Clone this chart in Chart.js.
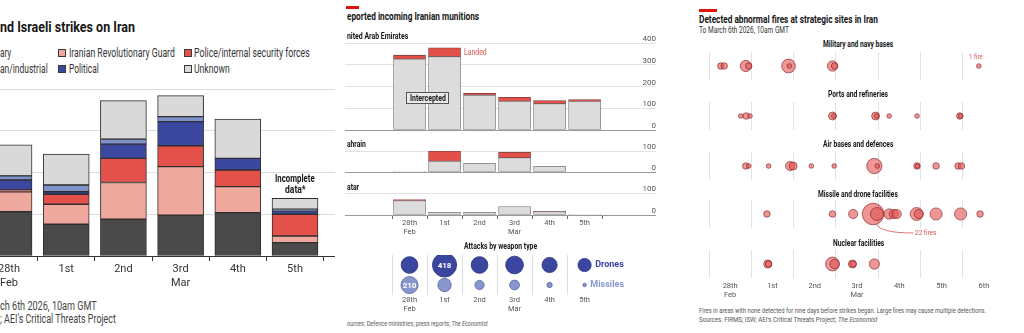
<!DOCTYPE html>
<html>
<head>
<meta charset="utf-8">
<title>Strikes, munitions and fires</title>
<script src="https://cdn.jsdelivr.net/npm/chart.js@4.4.1/dist/chart.umd.min.js"></script>
<style>
  html, body { margin: 0; width: 1024px; height: 333px; overflow: hidden; background: #fff; font-family: Roboto, sans-serif; }
  canvas { position: absolute; }
  .t { position: absolute; z-index: 2; white-space: nowrap; line-height: 1; transform-origin: 0 50%; transform: translateY(-50%); color: #333; }
  .b { font-weight: 700; color: #161616; }
  .sw { position: absolute; width: 8px; height: 8px; box-sizing: border-box; border: 1px solid #3a3a3a; }
  .accent { position: absolute; height: 3px; background: #e3120b; }
  .box { position: absolute; z-index: 2; box-sizing: border-box; border: 1px solid #555; background: #e9e9e9; }
</style>
</head>
<body>
<!-- left: strikes by target -->
<canvas id="strikes" width="375" height="216" style="left:-40px;top:80px"></canvas>
<div class="t b" style="left:0;top:27px;font-size:15px" data-w="135">nd Israeli strikes on Iran</div>
<div class="t" style="left:0;top:53px;font-size:12px" data-w="11">ary</div>
<div class="sw" style="left:58px;top:49px;background:#eea89d"></div>
<div class="t" style="left:69px;top:53px;font-size:12px" data-w="106">Iranian Revolutionary Guard</div>
<div class="sw" style="left:184px;top:49px;background:#e4504a"></div>
<div class="t" style="left:194px;top:53px;font-size:12px" data-w="116">Police/internal security forces</div>
<div class="t" style="left:0;top:69px;font-size:12px" data-w="48">an/industrial</div>
<div class="sw" style="left:58px;top:65px;background:#3c48a0"></div>
<div class="t" style="left:69px;top:69px;font-size:12px" data-w="30">Political</div>
<div class="sw" style="left:184px;top:65px;background:#d9d9d9"></div>
<div class="t" style="left:194px;top:69px;font-size:12px" data-w="36">Unknown</div>
<div class="t b" style="top:178px;font-size:11px" data-cx="295" data-w="40">Incomplete</div>
<div class="t b" style="top:189px;font-size:11px" data-cx="295" data-w="21">data*</div>
<div class="t" style="left:0;top:306px;font-size:12px;color:#444" data-w="97">ch 6th 2026, 10am GMT</div>
<div class="t" style="left:0;top:319px;font-size:12px;color:#444" data-w="116">; AEI's Critical Threats Project</div>

<!-- middle: munitions -->
<canvas id="uae" width="311" height="97" style="left:345px;top:34px"></canvas>
<canvas id="bahrain" width="311" height="31" style="left:345px;top:142px"></canvas>
<canvas id="qatar" width="311" height="55" style="left:345px;top:184px"></canvas>
<canvas id="weapons" width="311" height="70" style="left:345px;top:245px"></canvas>
<div class="accent" style="left:346px;top:6px;width:13px"></div>
<div class="t b" style="left:347px;top:16px;font-size:11px" data-w="132">eported incoming Iranian munitions</div>
<div class="t b" style="left:347px;top:36px;font-size:8.5px" data-w="61">nited Arab Emirates</div>
<div class="t" style="left:464px;top:52px;font-size:9px;color:#e3504a" data-w="23">Landed</div>
<div class="box" style="left:406px;top:92px;width:43px;height:12px"></div>
<div class="t b" style="top:98px;font-size:8.5px" data-cx="427.5" data-w="36">Intercepted</div>
<div class="t b" style="left:347px;top:144px;font-size:8.5px" data-w="19">ahrain</div>
<div class="t b" style="left:347px;top:187px;font-size:8.5px" data-w="12">atar</div>
<div class="t b" style="top:246px;font-size:9px" data-cx="500" data-w="73">Attacks by weapon type</div>
<div class="t" style="left:347px;top:324px;font-size:8px;color:#555" data-w="141">ources: Defence ministries; press reports; <i>The Economist</i></div>

<!-- right: fires -->
<canvas id="fireMil" width="296" height="28" style="left:709px;top:52px"></canvas>
<canvas id="firePort" width="296" height="28" style="left:709px;top:102px"></canvas>
<canvas id="fireAir" width="296" height="28" style="left:709px;top:152px"></canvas>
<canvas id="fireMissile" width="296" height="36" style="left:709px;top:200px"></canvas>
<canvas id="fireNuclear" width="296" height="50" style="left:709px;top:250px"></canvas>
<div class="accent" style="left:699px;top:9px;width:18px"></div>
<div class="t b" style="left:699px;top:19px;font-size:11px" data-w="179">Detected abnormal fires at strategic sites in Iran</div>
<div class="t" style="left:699px;top:30px;font-size:8.5px" data-w="90">To March 6th 2026, 10am GMT</div>
<div class="t b" style="top:44px;font-size:9px" data-cx="858" data-w="70">Military and navy bases</div>
<div class="t" style="top:57px;font-size:8px;color:#d9534f" data-cx="976" data-w="14">1 fire</div>
<div class="t b" style="top:94px;font-size:9px" data-cx="858" data-w="60">Ports and refineries</div>
<div class="t b" style="top:144px;font-size:9px" data-cx="858" data-w="70">Air bases and defences</div>
<div class="t b" style="top:194px;font-size:9px" data-cx="858" data-w="80">Missile and drone facilities</div>
<div class="t" style="left:915px;top:233px;font-size:8px;color:#d9534f" data-w="21">22 fires</div>
<div class="t b" style="top:243px;font-size:9px" data-cx="858" data-w="51">Nuclear facilities</div>
<div class="t" style="left:699px;top:311px;font-size:7.5px;color:#555" data-w="287">Fires in areas with none detected for nine days before strikes began. Large fires may cause multiple detections.</div>
<div class="t" style="left:699px;top:320px;font-size:7.5px;color:#555" data-w="179">Sources: FIRMS; ISW; AEI's Critical Threats Project; <i>The Economist</i></div>

<script>
// strikes per day, by target type
const strikeDays = [['28th', 'Feb'], '1st', '2nd', ['3rd', 'Mar'], '4th', '5th'];
const military = [53, 38, 44, 49, 52, 16];
const revolutionaryGuard = [24, 24, 44, 58, 31, 8];
const police = [2, 12, 29, 25, 20, 26];
const political = [12, 3, 17, 29, 14, 4];
const civilian = [5, 8, 6, 6, 0, 2];
const unknown = [37, 37, 46, 25, 47, 13];

// incoming Iranian munitions
const munitionDays = [['28th', 'Feb'], '1st', '2nd', ['3rd', 'Mar'], '4th', '5th'];
const uaeIntercepted = [326, 337, 160, 132, 121, 131];
const uaeLanded = [18, 41, 9, 18, 14, 9];
const bahrainIntercepted = [3, 51, 41, 68, 27, 0];
const bahrainLanded = [0, 49, 0, 26, 0, 0];
const qatarIntercepted = [65, 12, 12, 38, 15, 3];
const qatarLanded = [5, 0, 0, 0, 2, 0];
const drones = [200, 418, 200, 225, 165, 125];
const missiles = [210, 128, 61, 69, 20, 9];

// fires: [days since 28th Feb 00:00, number of fires]
const fireDays = [['28th', 'Feb'], '1st', '2nd', ['3rd', 'Mar'], '4th', '5th', '6th'];
const militaryFires = [[0.28, 2], [0.36, 2], [0.87, 6], [0.94, 2], [1.88, 9], [1.9, 1], [2.92, 5], [2.97, 2], [6.38, 1]];
const portFires = [[0.75, 1], [0.88, 2], [0.97, 1], [2.92, 3], [2.95, 1], [3.94, 3], [3.96, 1], [4.26, 1], [4.92, 1], [5.93, 2], [5.95, 1]];
const airFires = [[0.87, 2], [0.94, 1], [1.41, 1], [1.92, 4], [1.99, 3], [2.42, 1], [2.96, 1], [3.91, 11], [3.98, 1], [4.92, 2], [4.93, 1], [5.37, 2], [5.89, 2], [5.97, 2]];
const missileFires = [[1.37, 2], [2.92, 2], [3.41, 4], [3.88, 22], [3.97, 8], [4.26, 5], [4.37, 4], [4.44, 4], [4.91, 8], [4.96, 4], [5.37, 7], [5.95, 7], [6.41, 2]];
const nuclearFires = [[1.39, 3], [1.41, 2], [2.92, 9], [2.97, 4], [3.39, 3], [3.41, 2], [3.91, 5]];

Chart.defaults.font.family = 'Roboto, sans-serif';

function halfTicks(from, to) {
  const t = [];
  for (let v = from; v <= to; v += 0.5) t.push({ value: v });
  return t;
}

const isHalf = v => v % 1 !== 0;
// grid options are also resolved without a tick (for the border), so guard it
const tickIsHalf = c => !!c.tick && isHalf(c.tick.value);
const tickIsWhole = c => !!c.tick && !isHalf(c.tick.value);
const noPlugins = { legend: { display: false }, tooltip: { enabled: false } };

// fixed axis sizes, and no extra room kept for overhanging tick labels
const fixHeight = h => s => { s.height = h; s.paddingLeft = 0; s.paddingRight = 0; };
const fixWidth = s => { s.width = 0; s.paddingTop = 0; s.paddingBottom = 0; };

function stackSet(label, values, color) {
  return {
    label,
    data: values.map((v, i) => ({ x: i, y: v })),
    backgroundColor: color,
    borderColor: '#2e2e2e',
    borderWidth: 1,
    borderSkipped: false
  };
}

function drawStrikes() {
  new Chart(document.getElementById('strikes'), {
    type: 'bar',
    data: {
      datasets: [
        stackSet('Military', military, '#4a4a4a'),
        stackSet('Iranian Revolutionary Guard', revolutionaryGuard, '#eea89d'),
        stackSet('Police/internal security forces', police, '#e4504a'),
        stackSet('Political', political, '#3c48a0'),
        stackSet('Civilian/industrial', civilian, '#7f92c9'),
        stackSet('Unknown', unknown, '#d9d9d9')
      ]
    },
    options: {
      responsive: false,
      animation: false,
      layout: { padding: { top: 9 } },
      plugins: noPlugins,
      datasets: { bar: { barThickness: 46 } },
      scales: {
        x: {
          type: 'linear', stacked: true, offset: false, min: -0.857, max: 5.699,
          afterBuildTicks: s => { s.ticks = halfTicks(-0.5, 5.5); },
          afterFit: fixHeight(40),
          grid: { offset: false, drawOnChartArea: false, tickLength: 5, tickColor: c => tickIsHalf(c) ? '#333' : 'transparent' },
          border: { color: '#333' },
          ticks: {
            autoSkip: false, maxRotation: 0, padding: 1, color: '#333',
            font: { size: 11, lineHeight: 1.27 },
            callback: v => isHalf(v) ? '' : strikeDays[v]
          }
        },
        y: {
          stacked: true, min: 0, max: 200,
          afterFit: fixWidth,
          grid: { color: '#dddddd', drawTicks: false },
          border: { display: false },
          ticks: { display: false, stepSize: 50 }
        }
      }
    }
  });
}

function munitionChart(id, intercepted, landed, yMax, showDays) {
  new Chart(document.getElementById(id), {
    type: 'bar',
    data: {
      datasets: [
        { label: 'Intercepted', data: intercepted.map((v, i) => ({ x: i, y: v })), backgroundColor: '#dcdcdc', borderColor: '#777', borderWidth: 0.8, borderSkipped: false },
        { label: 'Landed', data: landed.map((v, i) => ({ x: i, y: v })), backgroundColor: '#e3504a', borderColor: '#7a3b38', borderWidth: 0.8, borderSkipped: false }
      ]
    },
    options: {
      responsive: false,
      animation: false,
      layout: { padding: { top: 9 } },
      plugins: noPlugins,
      datasets: { bar: { barThickness: 32 } },
      scales: {
        x: {
          type: 'linear', stacked: true, offset: false, min: -1.843, max: 7.04,
          afterBuildTicks: s => { s.ticks = halfTicks(-0.5, 5.5); },
          afterFit: fixHeight(showDays ? 24 : 1),
          grid: { offset: false, drawOnChartArea: false, drawTicks: showDays, tickLength: 4, tickColor: c => tickIsHalf(c) ? '#666' : 'transparent' },
          border: { color: '#999' },
          ticks: {
            display: showDays, autoSkip: false, maxRotation: 0, padding: 0, color: '#555',
            font: { size: 7.5, lineHeight: 1.2 },
            callback: v => isHalf(v) ? '' : munitionDays[v]
          }
        },
        y: {
          position: 'right', stacked: true, min: 0, max: yMax,
          afterFit: fixWidth,
          grid: { color: '#e2e2e2', drawTicks: false },
          border: { display: false },
          ticks: { stepSize: 100, mirror: true, padding: 0, labelOffset: -4, color: '#555', font: { size: 8 } }
        }
      }
    }
  });
}

const bubbleR = v => 0.59 * Math.sqrt(v);

// numbers inside the biggest bubbles, series names beside the last ones
const weaponLabels = {
  id: 'weaponLabels',
  afterDatasetsDraw(chart) {
    const ctx = chart.ctx;
    const series = [drones, missiles];
    const names = ['Drones', 'Missiles'];
    const colors = ['#3a46a0', '#8797cd'];
    ctx.save();
    ctx.textBaseline = 'middle';
    series.forEach((vals, s) => {
      const pts = chart.getDatasetMeta(s).data;
      const big = vals.indexOf(Math.max(...vals));
      ctx.font = 'bold 8px Roboto';
      ctx.fillStyle = '#fff';
      ctx.textAlign = 'center';
      ctx.fillText(vals[big], pts[big].x, pts[big].y + 0.5);
      const last = vals.length - 1;
      ctx.font = 'bold 9px Roboto';
      ctx.fillStyle = colors[s];
      ctx.textAlign = 'left';
      ctx.fillText(names[s], pts[last].x + bubbleR(vals[last]) + 4, pts[last].y);
    });
    ctx.restore();
  }
};

function drawWeapons() {
  new Chart(document.getElementById('weapons'), {
    type: 'bubble',
    data: {
      datasets: [
        { label: 'Drones', data: drones.map((v, i) => ({ x: i, y: 1, r: bubbleR(v) })), backgroundColor: '#3a46a0', borderColor: '#28317a', borderWidth: 0.8 },
        { label: 'Missiles', data: missiles.map((v, i) => ({ x: i, y: 0, r: bubbleR(v) })), backgroundColor: '#8797cd', borderColor: '#56649f', borderWidth: 0.8 }
      ]
    },
    options: {
      responsive: false,
      animation: false,
      layout: { autoPadding: false, padding: { top: 10 } },
      plugins: noPlugins,
      scales: {
        x: {
          min: -1.843, max: 7.04, offset: false,
          afterBuildTicks: s => { s.ticks = halfTicks(-0.5, 5.5); },
          afterFit: fixHeight(20),
          grid: { offset: false, drawTicks: false, color: c => (tickIsHalf(c) && c.tick.value < 5) ? '#dddddd' : 'transparent' },
          border: { display: false },
          ticks: {
            autoSkip: false, maxRotation: 0, padding: 1, color: '#555',
            font: { size: 7.5, lineHeight: 1.2 },
            callback: v => isHalf(v) ? '' : munitionDays[v]
          }
        },
        y: { display: false, min: -0.5, max: 1.5 }
      }
    },
    plugins: [weaponLabels]
  });
}

const fireR = n => 2.3 * Math.sqrt(n);

// curved leader from the biggest fire to its "22 fires" note
const firesCallout = {
  id: 'firesCallout',
  afterDatasetsDraw(chart) {
    const raw = chart.data.datasets[0].data;
    let k = 0;
    raw.forEach((p, i) => { if (p.r > raw[k].r) k = i; });
    const el = chart.getDatasetMeta(0).data[k];
    const r = raw[k].r;
    const ctx = chart.ctx;
    ctx.save();
    ctx.strokeStyle = '#d9534f';
    ctx.lineWidth = 0.8;
    ctx.beginPath();
    ctx.moveTo(el.x + r * 0.3, el.y + r * 0.95);
    ctx.quadraticCurveTo(el.x + 8, el.y + 19, el.x + 40, el.y + 19);
    ctx.stroke();
    ctx.restore();
  }
};

function fireRow(id, fires, axisHeight, showDays, extra) {
  new Chart(document.getElementById(id), {
    type: 'bubble',
    data: {
      datasets: [{
        data: fires.map(([d, n]) => ({ x: d, y: 0, r: fireR(n) })),
        backgroundColor: 'rgba(228, 86, 86, 0.62)',
        borderColor: 'rgba(125, 25, 25, 0.85)',
        borderWidth: 0.7,
        clip: false
      }]
    },
    options: {
      responsive: false,
      animation: false,
      layout: { autoPadding: false, padding: 0 },
      plugins: noPlugins,
      scales: {
        x: {
          min: 0, max: 7, offset: false,
          afterBuildTicks: s => { s.ticks = halfTicks(0, 7); },
          afterFit: fixHeight(axisHeight),
          grid: { offset: false, drawTicks: false, color: c => tickIsWhole(c) ? '#e2e2e2' : 'transparent' },
          border: { display: false },
          ticks: {
            display: showDays, autoSkip: false, maxRotation: 0, padding: 4, color: '#555',
            font: { size: 7.5, lineHeight: 1.2 },
            callback: v => isHalf(v) ? fireDays[v - 0.5] : ''
          }
        },
        y: { display: false, min: -1, max: 1 }
      }
    },
    plugins: extra ? [extra] : []
  });
}

function fitTexts() {
  document.querySelectorAll('.t').forEach(el => {
    const w = parseFloat(el.dataset.w);
    const s = w / el.offsetWidth;
    if (el.dataset.cx) el.style.left = (parseFloat(el.dataset.cx) - w / 2) + 'px';
    el.style.transform = `translateY(-50%) scaleX(${s.toFixed(3)})`;
  });
}

window.onload = () => {
  fitTexts();
  drawStrikes();
  munitionChart('uae', uaeIntercepted, uaeLanded, 400, false);
  munitionChart('bahrain', bahrainIntercepted, bahrainLanded, 100, false);
  munitionChart('qatar', qatarIntercepted, qatarLanded, 100, true);
  drawWeapons();
  fireRow('fireMil', militaryFires, 0, false);
  fireRow('firePort', portFires, 0, false);
  fireRow('fireAir', airFires, 0, false);
  fireRow('fireMissile', missileFires, 8, false, firesCallout);
  fireRow('fireNuclear', nuclearFires, 22, true);
};
</script>
</body>
</html>
